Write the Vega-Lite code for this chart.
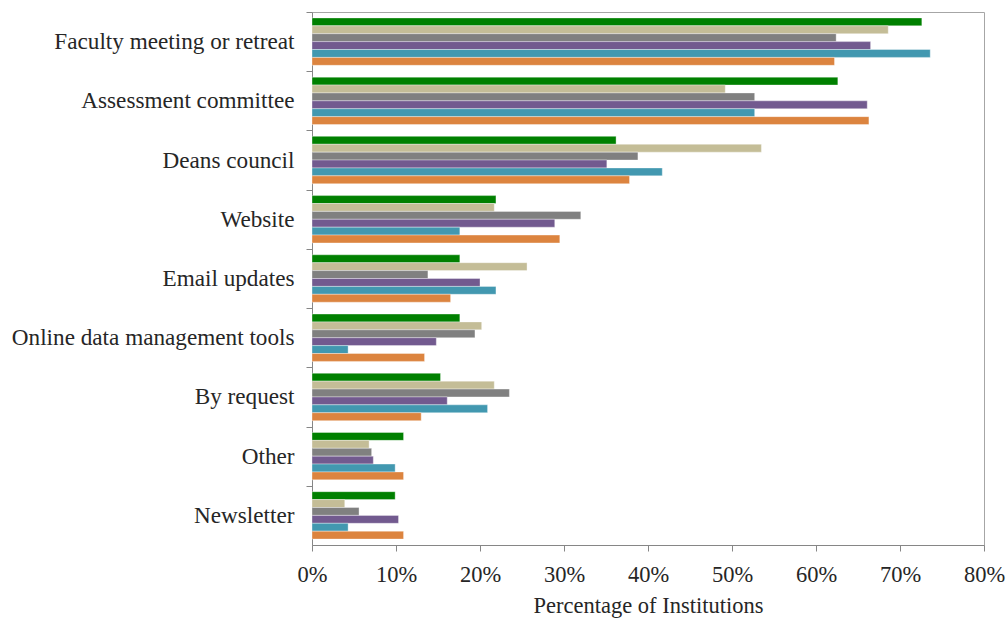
{
  "$schema": "https://vega.github.io/schema/vega-lite/v6.json",
  "autosize": {"type": "none"},
  "padding": {"left": 312, "top": 12, "right": 22, "bottom": 77},
  "width": 672,
  "height": 533,
  "background": "white",
  "config": {
    "view": {"stroke": "#A6A6A6", "strokeWidth": 1},
    "font": "Liberation Serif",
    "axis": {"labelFont": "Liberation Serif", "titleFont": "Liberation Serif", "labelColor": "#262626", "titleColor": "#262626", "domainColor": "#868686", "tickColor": "#868686"}
  },
  "data": {
    "values": [
      {"category": "Faculty meeting or retreat", "series": "Series 1", "value": 72.6},
      {"category": "Faculty meeting or retreat", "series": "Series 2", "value": 68.6},
      {"category": "Faculty meeting or retreat", "series": "Series 3", "value": 62.4},
      {"category": "Faculty meeting or retreat", "series": "Series 4", "value": 66.5},
      {"category": "Faculty meeting or retreat", "series": "Series 5", "value": 73.6},
      {"category": "Faculty meeting or retreat", "series": "Series 6", "value": 62.2},
      {"category": "Assessment committee", "series": "Series 1", "value": 62.6},
      {"category": "Assessment committee", "series": "Series 2", "value": 49.2},
      {"category": "Assessment committee", "series": "Series 3", "value": 52.7},
      {"category": "Assessment committee", "series": "Series 4", "value": 66.1},
      {"category": "Assessment committee", "series": "Series 5", "value": 52.7},
      {"category": "Assessment committee", "series": "Series 6", "value": 66.3},
      {"category": "Deans council", "series": "Series 1", "value": 36.2},
      {"category": "Deans council", "series": "Series 2", "value": 53.5},
      {"category": "Deans council", "series": "Series 3", "value": 38.8},
      {"category": "Deans council", "series": "Series 4", "value": 35.1},
      {"category": "Deans council", "series": "Series 5", "value": 41.7},
      {"category": "Deans council", "series": "Series 6", "value": 37.8},
      {"category": "Website", "series": "Series 1", "value": 21.9},
      {"category": "Website", "series": "Series 2", "value": 21.7},
      {"category": "Website", "series": "Series 3", "value": 32.0},
      {"category": "Website", "series": "Series 4", "value": 28.9},
      {"category": "Website", "series": "Series 5", "value": 17.6},
      {"category": "Website", "series": "Series 6", "value": 29.5},
      {"category": "Email updates", "series": "Series 1", "value": 17.6},
      {"category": "Email updates", "series": "Series 2", "value": 25.6},
      {"category": "Email updates", "series": "Series 3", "value": 13.8},
      {"category": "Email updates", "series": "Series 4", "value": 20.0},
      {"category": "Email updates", "series": "Series 5", "value": 21.9},
      {"category": "Email updates", "series": "Series 6", "value": 16.5},
      {"category": "Online data management tools", "series": "Series 1", "value": 17.6},
      {"category": "Online data management tools", "series": "Series 2", "value": 20.2},
      {"category": "Online data management tools", "series": "Series 3", "value": 19.4},
      {"category": "Online data management tools", "series": "Series 4", "value": 14.8},
      {"category": "Online data management tools", "series": "Series 5", "value": 4.3},
      {"category": "Online data management tools", "series": "Series 6", "value": 13.4},
      {"category": "By request", "series": "Series 1", "value": 15.3},
      {"category": "By request", "series": "Series 2", "value": 21.7},
      {"category": "By request", "series": "Series 3", "value": 23.5},
      {"category": "By request", "series": "Series 4", "value": 16.1},
      {"category": "By request", "series": "Series 5", "value": 20.9},
      {"category": "By request", "series": "Series 6", "value": 13.0},
      {"category": "Other", "series": "Series 1", "value": 10.9},
      {"category": "Other", "series": "Series 2", "value": 6.8},
      {"category": "Other", "series": "Series 3", "value": 7.1},
      {"category": "Other", "series": "Series 4", "value": 7.3},
      {"category": "Other", "series": "Series 5", "value": 9.9},
      {"category": "Other", "series": "Series 6", "value": 10.9},
      {"category": "Newsletter", "series": "Series 1", "value": 9.9},
      {"category": "Newsletter", "series": "Series 2", "value": 3.9},
      {"category": "Newsletter", "series": "Series 3", "value": 5.6},
      {"category": "Newsletter", "series": "Series 4", "value": 10.3},
      {"category": "Newsletter", "series": "Series 5", "value": 4.3},
      {"category": "Newsletter", "series": "Series 6", "value": 10.9}
    ]
  },
  "mark": {"type": "bar", "stroke": "white", "strokeWidth": 0.6, "strokeOpacity": 0.6},
  "encoding": {
    "y": {
      "field": "category",
      "type": "nominal",
      "sort": null,
      "scale": {"paddingInner": 0.2, "paddingOuter": 0.1},
      "axis": {"title": null, "labelFontSize": 23.2, "labelPadding": 12, "tickSize": 6, "tickOffset": -29.6, "labelOffset": 29.6, "labelLimit": 400}
    },
    "yOffset": {
      "field": "series",
      "type": "nominal",
      "scale": {"domain": ["Series 1", "Series 2", "Series 3", "Series 4", "Series 5", "Series 6"], "paddingInner": 0, "paddingOuter": 0}
    },
    "x": {
      "field": "value",
      "type": "quantitative",
      "scale": {"domain": [0, 80], "nice": false},
      "axis": {"title": "Percentage of Institutions", "values": [0, 10, 20, 30, 40, 50, 60, 70, 80], "labelExpr": "datum.value + '%'", "grid": false, "tickSize": 6, "labelFontSize": 22.5, "labelPadding": 12, "titleFontSize": 22.5, "titleFontWeight": "normal", "titlePadding": 9, "labelFlush": false}
    },
    "color": {
      "field": "series",
      "type": "nominal",
      "legend": null,
      "scale": {"domain": ["Series 1", "Series 2", "Series 3", "Series 4", "Series 5", "Series 6"], "range": ["#008000", "#C4BD97", "#808080", "#725A8F", "#4298B0", "#DC843F"]}
    }
  }
}
